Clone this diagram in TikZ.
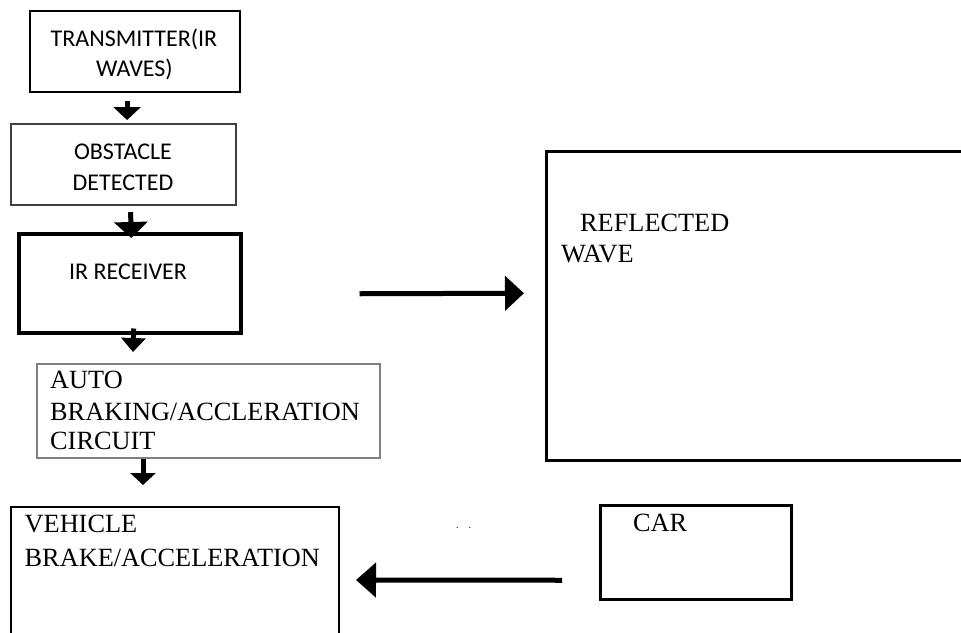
\documentclass[tikz,border=0pt]{standalone}
\usepackage{fontspec}
\setmainfont{Liberation Serif}
\newfontfamily\calib{Carlito}
\usetikzlibrary{arrows.meta,calc}
\definecolor{darkgr}{RGB}{64,64,64}
\definecolor{midgr}{RGB}{128,128,128}
\begin{document}
\begin{tikzpicture}[x=1pt,y=-1pt,
  box/.style={draw=black,line width=2.2pt,rectangle,inner sep=0pt,anchor=north west},
  sanstxt/.style={font=\calib\fontsize{24}{30}\selectfont,inner sep=0pt,anchor=base},
  sertxt/.style={font=\fontsize{26.3}{31}\selectfont,inner sep=0pt,anchor=base west},
  arr/.style={line width=5pt}]
\useasboundingbox (0,0) rectangle (961,632);
% boxes
\node[box,minimum width=210pt,minimum height=81pt] (tx) at (29,10) {};
\node[box,draw=darkgr,minimum width=225pt,minimum height=81pt] (ob) at (10,123) {};
\node[box,line width=3.5pt,minimum width=222pt,minimum height=99pt] (ir) at (17,232) {};
\node[box,draw=midgr,line width=2pt,minimum width=343pt,minimum height=94pt] (au) at (36,363) {};
\node[box,line width=2.5pt,minimum width=430pt,minimum height=309pt] (rw) at (545,150) {};
\node[box,line width=2pt,minimum width=328pt,minimum height=140pt] (vh) at (10,506) {};
\node[box,line width=2.5pt,minimum width=191pt,minimum height=94pt] (car) at (599,504) {};
% texts
\node[sanstxt] (t1a) at (134,46) {TRANSMITTER(IR};
\node[sanstxt] (t1b) at (134.5,76) {WAVES)};
\node[sanstxt] (t2a) at (123,159) {OBSTACLE};
\node[sanstxt] (t2b) at (123,190) {DETECTED};
\node[sanstxt] (t3) at (128,279) {IR RECEIVER};
\node[sertxt] (t4a) at (50,388) {AUTO};
\node[sertxt] (t4b) at (50,420) {BRAKING/ACCLERATION};
\node[sertxt] (t4c) at (50,449) {CIRCUIT};
\node[sertxt] (t5a) at (580,231) {REFLECTED};
\node[sertxt] (t5b) at (561,262) {WAVE};
\node[sertxt] (t6a) at (24.5,532) {VEHICLE};
\node[sertxt] (t6b) at (24.5,566) {BRAKE/ACCELERATION};
\node[sertxt] (t7) at (633,531) {CAR};
\node[font=\fontsize{10}{12}\selectfont,inner sep=0pt,anchor=base] (dots) at (463.5,528) {.\hspace{10pt}.};
% arrows
\draw[arr,-{Triangle[length=13pt,width=27pt]}] ($(tx.south)+(-8,8)$) -- ($(ob.north)+(3.5,-3)$);
\draw[arr,-{Triangle[length=16pt,width=33pt]}] ($(ob.south)+(7,6)$) -- ($(ir.north)+(1.5,6)$);
\draw[arr,-{Triangle[length=14pt,width=24pt]}] ($(ir.south)+(4,-6)$) -- ($(au.north)+(-75.5,-11)$);
\draw[arr,-{Triangle[length=12pt,width=25pt]}] ($(au.south)+(-65.5,0)$) -- ($(vh.north)+(-32,-21)$);
\draw[arr,-{Triangle[length=19pt,width=34pt]}] ($(ir.east)+(117,10.5)$) -- ($(rw.west)+(-21,-12.5)$);
\draw[arr,-{Triangle[length=20pt,width=34pt]}] ($(car.west)+(-37,28)$) -- ($(vh.east)+(16,3)$);
\end{tikzpicture}
\end{document}
